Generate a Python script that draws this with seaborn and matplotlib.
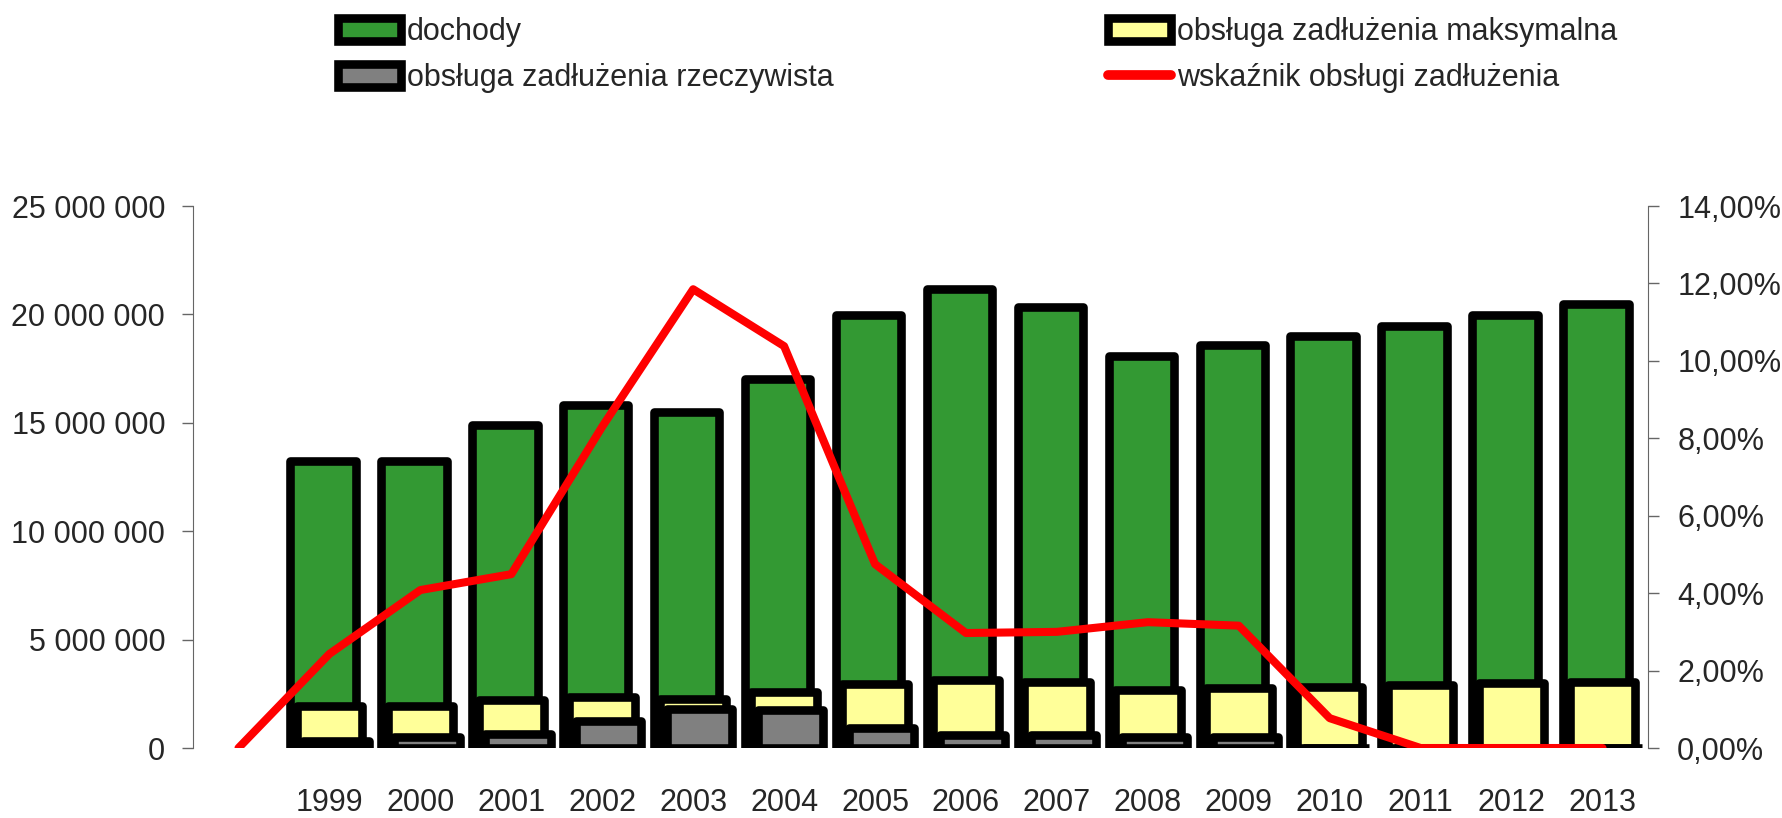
import numpy as np
import matplotlib
matplotlib.use("Agg")
import matplotlib.pyplot as plt
import seaborn as sns
from matplotlib import font_manager
from matplotlib.patches import Patch
from matplotlib.lines import Line2D
from matplotlib.ticker import FuncFormatter

# data
years = [str(y) for y in range(1999, 2014)]
dochody = [13220000, 13250000, 14920000, 15840000, 15520000, 17000000, 19970000,
           21150000, 20360000, 18100000, 18570000, 19000000, 19480000, 19990000, 20490000]
obsluga_max = [1940000, 1940000, 2200000, 2350000, 2260000, 2560000, 2950000,
               3140000, 3040000, 2680000, 2770000, 2810000, 2900000, 2980000, 3040000]
obsluga_rzecz = [300000, 500000, 650000, 1250000, 1820000, 1750000, 900000,
                 600000, 580000, 530000, 530000, 0, 0, 0, 0]
# the ratio line starts one category earlier (1998 = 0)
wskaznik = [0.0, 2.43, 4.08, 4.49, 8.3, 11.85, 10.38, 4.75, 2.97, 3.0, 3.25, 3.16, 0.77, 0.0, 0.0, 0.0]

labels = ["dochody", "obsługa zadłużenia rzeczywista",
          "obsługa zadłużenia maksymalna", "wskaźnik obsługi zadłużenia"]
green, yellow, grey, red = "#339933", "#FFFF99", "#808080", "#FF0000"

sns.set_style("white")
installed = {f.name for f in font_manager.fontManager.ttflist}
if "Liberation Sans Narrow" in installed:
    plt.rcParams["font.family"] = ["Liberation Sans Narrow", "DejaVu Sans"]
    fs = 25
else:
    plt.rcParams["font.family"] = ["Liberation Sans", "DejaVu Sans"]
    fs = 22

fig = plt.figure(figsize=(17.82, 8.18), dpi=100)
ax = fig.add_axes([193 / 1782, 70 / 818, (1648 - 193) / 1782, 542 / 818])

pos = np.arange(len(years))
shift = 0.0715
edge = 6.2
for vals, col, off in [(dochody, green, -shift), (obsluga_max, yellow, 0), (obsluga_rzecz, grey, shift)]:
    sns.barplot(x=pos + off, y=vals, native_scale=True, width=0.72, color=col, saturation=1,
                edgecolor="black", linewidth=edge, errorbar=None, ax=ax)
for p in ax.patches:
    p.set_joinstyle("round")

ax2 = ax.twinx()
sns.lineplot(x=np.arange(-1, len(years)), y=wskaznik, color=red, linewidth=5.8, ax=ax2, sort=False)

ax.set_xlim(-1.5, len(years) - 0.5)
ax.set_ylim(0, 25000000)
ax2.set_ylim(0, 14)
ax.set_xticks(pos)
ax.set_xticklabels(years)
ax.set_yticks(np.arange(0, 25000001, 5000000))
ax2.set_yticks(np.arange(0, 15, 2))
ax.yaxis.set_major_formatter(FuncFormatter(lambda v, _: f"{int(v):,}".replace(",", " ")))
ax2.yaxis.set_major_formatter(FuncFormatter(lambda v, _: f"{v:.2f}%".replace(".", ",")))
for a in (ax, ax2):
    a.set_xlabel("")
    a.set_ylabel("")
    a.spines["top"].set_visible(False)
    a.spines["bottom"].set_visible(False)
ax.spines["right"].set_visible(False)
ax2.spines["left"].set_visible(False)
ax.spines["left"].set_color("#666666")
ax2.spines["right"].set_color("#666666")
ax.tick_params(axis="y", left=True, length=8, width=1, color="#666666", pad=12, labelsize=fs)
ax2.tick_params(axis="y", right=True, length=8, width=1, color="#666666", pad=13, labelsize=fs)
ax.tick_params(axis="x", length=0, pad=29, labelsize=fs)

handles = [Patch(facecolor=green, edgecolor="black", linewidth=edge),
           Patch(facecolor=grey, edgecolor="black", linewidth=edge),
           Patch(facecolor=yellow, edgecolor="black", linewidth=edge),
           Line2D([], [], color=red, linewidth=7, solid_capstyle="round")]
fig.legend(handles, [labels[0], labels[1], labels[2], labels[3]], ncol=2, frameon=False,
           loc="upper left", bbox_to_anchor=(338 / 1782, 0.979), fontsize=fs,
           handlelength=2.05, handleheight=0.8, handletextpad=0.2, columnspacing=8.98,
           labelspacing=0.53, borderpad=0, borderaxespad=0)

fig.savefig("out.png", dpi=100)
